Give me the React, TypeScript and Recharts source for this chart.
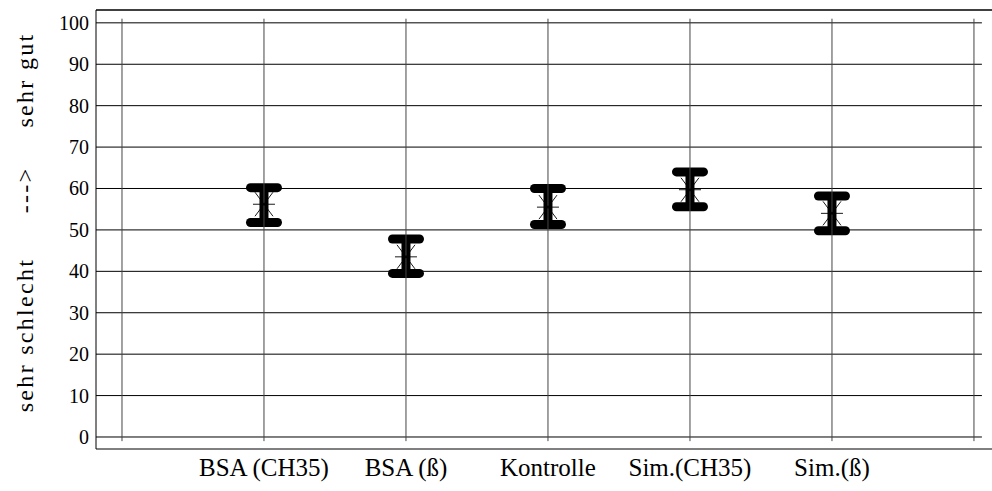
import { ComposedChart, XAxis, YAxis, Scatter, Bar, ReferenceLine } from "recharts";

const categories = ["BSA (CH35)", "BSA (ß)", "Kontrolle", "Sim.(CH35)", "Sim.(ß)"];
const positions = [1, 2, 3, 4, 5];
const means = [56.2, 43.5, 55.5, 59.7, 54.0];
const lower = [51.8, 39.5, 51.3, 55.6, 49.8];
const upper = [60.2, 47.8, 60.0, 64.0, 58.2];

const yTicks = [0, 10, 20, 30, 40, 50, 60, 70, 80, 90, 100];
const minorTicks = [
  0, 2, 4, 6, 8, 10, 12, 14, 16, 18, 20, 22, 24, 26, 28, 30, 32, 34, 36, 38, 40, 42, 44, 46, 48, 50,
  52, 54, 56, 58, 60, 62, 64, 66, 68, 70, 72, 74, 76, 78, 80, 82, 84, 86, 88, 90, 92, 94, 96, 98, 100,
];
const xGrid = [0, 1, 2, 3, 4, 5, 6];

const X_DOMAIN: [number, number] = [-0.183, 6.127];
const Y_DOMAIN: [number, number] = [-2.9, 103.1];

const data = positions.map((x, i) => ({
  x,
  mean: means[i],
  range: [lower[i], upper[i]],
}));

const FONT = '"Times New Roman", "Liberation Serif", "DejaVu Serif", serif';

// stem + rounded caps spanning the lower..upper range bar
const Whisker = ({ x, y, width, height }: any) => {
  const cx = x + width / 2;
  const top = Math.min(y, y + height);
  const bottom = Math.max(y, y + height);
  return (
    <g stroke="#000" strokeWidth={9} strokeLinecap="round">
      <line x1={cx} y1={top} x2={cx} y2={bottom} strokeLinecap="butt" />
      <line x1={cx - 13.5} y1={top} x2={cx + 13.5} y2={top} />
      <line x1={cx - 13.5} y1={bottom} x2={cx + 13.5} y2={bottom} />
    </g>
  );
};

const Star = ({ cx, cy }: any) => (
  <g stroke="#000" strokeWidth={0.9}>
    <line x1={cx - 11} y1={cy} x2={cx + 11} y2={cy} />
    <line x1={cx - 9} y1={cy - 12} x2={cx + 9} y2={cy + 12} />
    <line x1={cx - 9} y1={cy + 12} x2={cx + 9} y2={cy - 12} />
  </g>
);

const XTick = ({ x, y, payload }: any) => (
  <text x={x} y={y + 27} textAnchor="middle" style={{ fontSize: 25, fontFamily: FONT }} fill="#000">
    {categories[payload.value - 1]}
  </text>
);

const YTick = ({ x, y, payload }: any) => (
  <text x={x} y={y + 7} textAnchor="end" style={{ fontSize: 20, fontFamily: FONT }} fill="#000">
    {payload.value}
  </text>
);

const titleStyle = { fontSize: 24, fontFamily: FONT, letterSpacing: 2.3, fill: "#000" };

export default function App() {
  return (
    <div style={{ position: "absolute", left: 0, top: 0, background: "#fff", fontFamily: FONT }}>
      <ComposedChart
        width={992}
        height={491}
        data={data}
        margin={{ top: 10, right: 0, bottom: 0, left: 0 }}
      >
        <XAxis
          dataKey="x"
          type="number"
          domain={X_DOMAIN}
          ticks={positions}
          allowDataOverflow
          height={42}
          axisLine={{ stroke: "#000" }}
          tickLine={false}
          tickSize={0}
          tickMargin={0}
          tick={<XTick />}
        />
        <YAxis
          type="number"
          domain={Y_DOMAIN}
          ticks={yTicks}
          allowDataOverflow
          width={96}
          axisLine={{ stroke: "#000" }}
          tickLine={false}
          tickSize={0}
          tickMargin={7}
          tick={<YTick />}
        />
        <YAxis
          yAxisId="minorL"
          orientation="left"
          mirror
          type="number"
          domain={Y_DOMAIN}
          ticks={minorTicks}
          allowDataOverflow
          width={10}
          axisLine={false}
          tickSize={9}
          tickLine={{ stroke: "#000" }}
          tick={false}
        />
        <YAxis
          yAxisId="minorR"
          orientation="right"
          mirror
          type="number"
          domain={Y_DOMAIN}
          ticks={minorTicks}
          allowDataOverflow
          width={10}
          axisLine={false}
          tickSize={4}
          tickLine={{ stroke: "#000" }}
          tick={false}
        />
        <ReferenceLine y={Y_DOMAIN[1]} stroke="#000" strokeWidth={1.5} />
        {yTicks.map((v) => (
          <ReferenceLine
            key={`h${v}`}
            segment={[
              { x: X_DOMAIN[0], y: v },
              { x: 6.056, y: v },
            ]}
            stroke="#000"
          />
        ))}
        {xGrid.map((v) => (
          <ReferenceLine
            key={`v${v}`}
            segment={[
              { x: v, y: -1 },
              { x: v, y: 101 },
            ]}
            stroke="#444"
          />
        ))}
        <Bar dataKey="range" barSize={36} shape={<Whisker />} isAnimationActive={false} />
        <Scatter dataKey="mean" shape={<Star />} isAnimationActive={false} />
        <text transform="translate(33,335) rotate(-90)" textAnchor="middle" style={titleStyle}>
          sehr schlecht
        </text>
        <text transform="translate(33,190) rotate(-90)" textAnchor="middle" style={titleStyle}>
          ---&gt;
        </text>
        <text transform="translate(33,80) rotate(-90)" textAnchor="middle" style={titleStyle}>
          sehr gut
        </text>
      </ComposedChart>
    </div>
  );
}
